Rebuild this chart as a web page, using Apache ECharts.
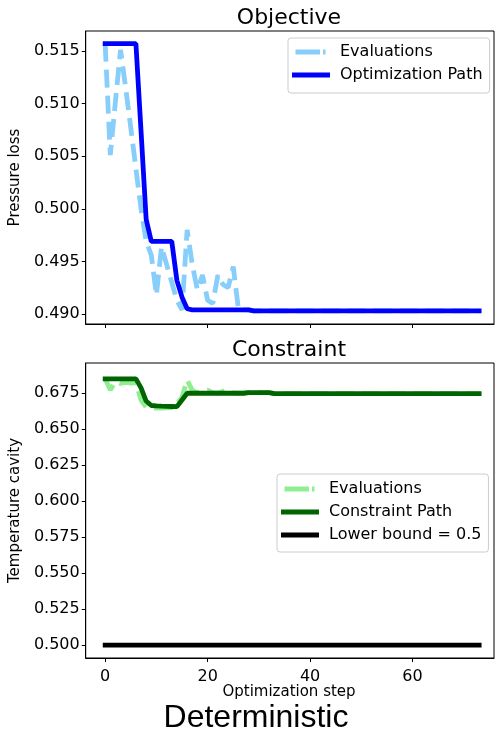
<!DOCTYPE html>
<html>
<head>
<meta charset="utf-8">
<script src="https://cdn.jsdelivr.net/npm/echarts@6/dist/echarts.min.js"></script>
<style>
html,body{margin:0;padding:0;background:#fff;}
#chart{width:495px;height:734px;}
</style>
</head>
<body>
<div id="chart"></div>
<script>
// ---- data ----
const steps = [0,1,2,3,4,5,6,7,8,9,10,11,12,13,14,15,16,17,18,19,20,21,22,23,24,25,26,27,28,29,30,31,32,33,34,35,36,37,38,39,40,41,42,43,44,45,46,47,48,49,50,51,52,53,54,55,56,57,58,59,60,61,62,63,64,65,66,67,68,69,70,71,72,73];

const objEvaluations = [0.5157,0.5051,0.5102,0.5151,0.5115,0.5077,0.5038,0.5000,0.4969,0.4956,
  0.4918,0.4964,0.4947,0.4930,0.4913,0.4904,0.4980,0.4947,0.4923,0.4937,
  0.4913,0.4910,0.4937,0.4928,0.4925,0.4945,0.4905,0.4904,0.4904,0.4903,
  0.4903,0.4903,0.4903,0.4903,0.4903,0.4903,0.4903,0.4903,0.4903,0.4903,
  0.4903,0.4903,0.4903,0.4903,0.4903,0.4903,0.4903,0.4903,0.4903,0.4903,
  0.4903,0.4903,0.4903,0.4903,0.4903,0.4903,0.4903,0.4903,0.4903,0.4903,
  0.4903,0.4903,0.4903,0.4903,0.4903,0.4903,0.4903,0.4903,0.4903,0.4903,
  0.4903,0.4903,0.4903,0.4903];

const objPath = [0.5157,0.5157,0.5157,0.5157,0.5157,0.5157,0.5157,0.5074,0.4990,0.4969,
  0.4969,0.4969,0.4969,0.4969,0.4932,0.4916,0.4905,0.4904,0.4904,0.4904,
  0.4904,0.4904,0.4904,0.4904,0.4904,0.4904,0.4904,0.4904,0.4904,0.4903,
  0.4903,0.4903,0.4903,0.4903,0.4903,0.4903,0.4903,0.4903,0.4903,0.4903,
  0.4903,0.4903,0.4903,0.4903,0.4903,0.4903,0.4903,0.4903,0.4903,0.4903,
  0.4903,0.4903,0.4903,0.4903,0.4903,0.4903,0.4903,0.4903,0.4903,0.4903,
  0.4903,0.4903,0.4903,0.4903,0.4903,0.4903,0.4903,0.4903,0.4903,0.4903,
  0.4903,0.4903,0.4903,0.4903];

const conEvaluations = [0.6848,0.6771,0.6828,0.6815,0.6830,0.6818,0.6820,0.6700,0.6652,0.6648,
  0.6645,0.6645,0.6646,0.6648,0.6672,0.6720,0.6840,0.6768,0.6752,0.6765,
  0.6770,0.6752,0.6748,0.6762,0.6760,0.6750,0.6748,0.6748,0.6754,0.6754,
  0.6754,0.6754,0.6754,0.6746,0.6746,0.6746,0.6746,0.6746,0.6746,0.6746,
  0.6746,0.6746,0.6746,0.6746,0.6746,0.6746,0.6746,0.6746,0.6746,0.6746,
  0.6746,0.6746,0.6746,0.6746,0.6746,0.6746,0.6746,0.6746,0.6746,0.6746,
  0.6746,0.6746,0.6746,0.6746,0.6746,0.6746,0.6746,0.6746,0.6746,0.6746,
  0.6746,0.6746,0.6746,0.6746];

const conPath = [0.6848,0.6848,0.6848,0.6848,0.6848,0.6848,0.6848,0.6785,0.6694,0.6663,
  0.6660,0.6658,0.6657,0.6656,0.6655,0.6701,0.6748,0.6748,0.6748,0.6748,
  0.6748,0.6748,0.6748,0.6748,0.6748,0.6748,0.6748,0.6748,0.6753,0.6753,
  0.6753,0.6753,0.6753,0.6746,0.6746,0.6746,0.6746,0.6746,0.6746,0.6746,
  0.6746,0.6746,0.6746,0.6746,0.6746,0.6746,0.6746,0.6746,0.6746,0.6746,
  0.6746,0.6746,0.6746,0.6746,0.6746,0.6746,0.6746,0.6746,0.6746,0.6746,
  0.6746,0.6746,0.6746,0.6746,0.6746,0.6746,0.6746,0.6746,0.6746,0.6746,
  0.6746,0.6746,0.6746,0.6746];

const boundSteps = [0, 73];
const boundValues = [0.5, 0.5];

const xTicks = [0, 20, 40, 60];
const objTicks = [0.490, 0.495, 0.500, 0.505, 0.510, 0.515];
const conTicks = [0.500, 0.525, 0.550, 0.575, 0.600, 0.625, 0.650, 0.675];

// ---- chart ----
const pair = (xs, ys) => xs.map((x, i) => [x, ys[i]]);
const FONT = 'DejaVu Sans';
const FS = 16;
const LW = 4.8;
const DASH = [18, 8];
const ICON_SOLID = 'path://M0,0M38,16M0,5.6H38V10.4H0Z';
const ICON_DASHED = 'path://M0,0M38,16M3.5,5.6H28V10.4H3.5Z M31,5.6H33.5V10.4H31Z';

const chart = echarts.init(document.getElementById('chart'), null, {renderer: 'canvas'});

function xAxisCfg(gridIndex, showLabels) {
  return {
    type: 'value', gridIndex: gridIndex, min: -3.8, max: 75.9,
    axisLine: {show: true, onZero: false, lineStyle: {color: '#000', width: 1}},
    axisTick: {show: true, inside: false, length: 4, customValues: xTicks, lineStyle: {color: '#000'}},
    axisLabel: {show: showLabels, customValues: xTicks, color: '#000', fontFamily: FONT, fontSize: FS, margin: 11},
    splitLine: {show: false}
  };
}
function yAxisCfg(gridIndex, min, max, ticks, name) {
  return {
    type: 'value', gridIndex: gridIndex, min: min, max: max,
    name: name, nameLocation: 'middle', nameGap: 52, nameRotate: 90,
    nameTextStyle: {color: '#000', fontFamily: FONT, fontSize: 15},
    axisLine: {show: true, onZero: false, lineStyle: {color: '#000', width: 1}},
    axisTick: {show: true, inside: false, length: 4, customValues: ticks, lineStyle: {color: '#000'}},
    axisLabel: {customValues: ticks, color: '#000', fontFamily: FONT, fontSize: FS, margin: 6,
      formatter: v => Number(v).toFixed(3)},
    splitLine: {show: false}
  };
}

const legendCommon = {
  orient: 'vertical',
  backgroundColor: 'rgba(255,255,255,0.8)',
  borderColor: '#cccccc', borderWidth: 1, borderRadius: 3,
  itemWidth: 38, itemHeight: 16, itemGap: 7,
  itemStyle: {borderWidth: 0},
  textStyle: {color: '#000', fontFamily: FONT, fontSize: FS, lineHeight: 16, padding: [0, 0, 0, 5]}
};

const option = {
  animation: false,
  backgroundColor: '#fff',
  grid: [
    {left: 84, top: 31, width: 410, height: 293, show: true, borderColor: '#000', borderWidth: 1, backgroundColor: 'transparent'},
    {left: 84, top: 363, width: 410, height: 295, show: true, borderColor: '#000', borderWidth: 1, backgroundColor: 'transparent'}
  ],
  xAxis: [xAxisCfg(0, false), xAxisCfg(1, true)],
  yAxis: [
    yAxisCfg(0, 0.48905, 0.5169, objTicks, 'Pressure loss'),
    yAxisCfg(1, 0.4910, 0.6958, conTicks, 'Temperature cavity')
  ],
  legend: [
    Object.assign({}, legendCommon, {
      left: 288, top: 38, padding: [6, 7, 10, 4],
      data: [{name: 'Evaluations', icon: ICON_DASHED}, {name: 'Optimization Path', icon: ICON_SOLID}]
    }),
    Object.assign({}, legendCommon, {
      left: 277, top: 474, padding: [7, 7, 9, 4],
      data: [{name: 'Evaluations ', icon: ICON_DASHED}, {name: 'Constraint Path', icon: ICON_SOLID}, {name: 'Lower bound = 0.5', icon: ICON_SOLID}]
    })
  ],
  graphic: [
    {type: 'text', x: 289, y: 18, style: {text: 'Objective', fill: '#000', font: '22px "DejaVu Sans"', textAlign: 'center', textVerticalAlign: 'middle'}},
    {type: 'text', x: 289, y: 350, style: {text: 'Constraint', fill: '#000', font: '22px "DejaVu Sans"', textAlign: 'center', textVerticalAlign: 'middle'}},
    {type: 'text', x: 289, y: 692, style: {text: 'Optimization step', fill: '#000', font: '15px "DejaVu Sans"', textAlign: 'center', textVerticalAlign: 'middle'}},
    {type: 'text', x: 256, y: 718, style: {text: 'Deterministic', fill: '#000', font: '32px "Liberation Sans"', textAlign: 'center', textVerticalAlign: 'middle'}}
  ],
  series: [
    {name: 'Evaluations', type: 'line', xAxisIndex: 0, yAxisIndex: 0, symbol: 'none',
      data: pair(steps, objEvaluations), color: '#87CEFA',
      lineStyle: {color: '#87CEFA', width: LW, type: DASH}, z: 2},
    {name: 'Optimization Path', type: 'line', xAxisIndex: 0, yAxisIndex: 0, symbol: 'none',
      data: pair(steps, objPath), color: '#0000FF',
      lineStyle: {color: '#0000FF', width: LW, cap: 'square'}, z: 3},
    {name: 'Evaluations ', type: 'line', xAxisIndex: 1, yAxisIndex: 1, symbol: 'none',
      data: pair(steps, conEvaluations), color: '#90EE90',
      lineStyle: {color: '#90EE90', width: LW, type: DASH}, z: 2},
    {name: 'Constraint Path', type: 'line', xAxisIndex: 1, yAxisIndex: 1, symbol: 'none',
      data: pair(steps, conPath), color: '#006400',
      lineStyle: {color: '#006400', width: LW, cap: 'square'}, z: 3},
    {name: 'Lower bound = 0.5', type: 'line', xAxisIndex: 1, yAxisIndex: 1, symbol: 'none',
      data: pair(boundSteps, boundValues), color: '#000',
      lineStyle: {color: '#000', width: LW, cap: 'square'}, z: 3}
  ]
};
chart.setOption(option);
</script>
</body>
</html>
